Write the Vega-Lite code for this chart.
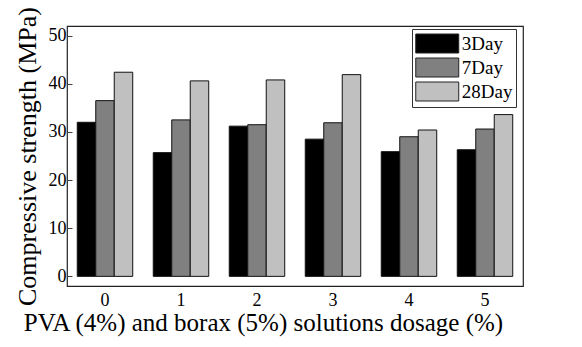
{
  "$schema": "https://vega.github.io/schema/vega-lite/v6.json",
  "width": 456,
  "height": 260,
  "autosize": {"type": "none"},
  "padding": {"left": 67, "top": 26, "right": 59, "bottom": 61},
  "background": "white",
  "config": {
    "font": "Liberation Serif, Times New Roman, DejaVu Serif, serif",
    "view": {"stroke": "#222", "strokeWidth": 1.2},
    "axis": {"labelFont": "Liberation Serif, Times New Roman, DejaVu Serif, serif", "titleFont": "Liberation Serif, Times New Roman, DejaVu Serif, serif"},
    "legend": {"labelFont": "Liberation Serif, Times New Roman, DejaVu Serif, serif"}
  },
  "data": {
    "values": [
      {"dosage": "0", "age": "3Day", "strength": 32.0},
      {"dosage": "0", "age": "7Day", "strength": 36.5},
      {"dosage": "0", "age": "28Day", "strength": 42.4},
      {"dosage": "1", "age": "3Day", "strength": 25.7},
      {"dosage": "1", "age": "7Day", "strength": 32.5},
      {"dosage": "1", "age": "28Day", "strength": 40.6},
      {"dosage": "2", "age": "3Day", "strength": 31.2},
      {"dosage": "2", "age": "7Day", "strength": 31.5},
      {"dosage": "2", "age": "28Day", "strength": 40.8},
      {"dosage": "3", "age": "3Day", "strength": 28.5},
      {"dosage": "3", "age": "7Day", "strength": 31.9},
      {"dosage": "3", "age": "28Day", "strength": 41.9},
      {"dosage": "4", "age": "3Day", "strength": 25.9},
      {"dosage": "4", "age": "7Day", "strength": 29.0},
      {"dosage": "4", "age": "28Day", "strength": 30.4},
      {"dosage": "5", "age": "3Day", "strength": 26.3},
      {"dosage": "5", "age": "7Day", "strength": 30.6},
      {"dosage": "5", "age": "28Day", "strength": 33.6}
    ]
  },
  "mark": {"type": "bar", "stroke": "#111", "strokeWidth": 1},
  "encoding": {
    "x": {
      "field": "dosage",
      "type": "nominal",
      "scale": {"paddingInner": 0.27, "paddingOuter": 0.135},
      "axis": {
        "title": "PVA (4%) and borax (5%) solutions dosage (%)",
        "titleFontSize": 25,
        "titleFontWeight": "normal",
        "titleColor": "black",
        "titleX": 196,
        "titleY": 44,
        "titleAlign": "center",
        "titleBaseline": "alphabetic",
        "labelAngle": 0,
        "labelFontSize": 18,
        "labelColor": "black",
        "labelPadding": 5,
        "ticks": false,
        "domain": false
      }
    },
    "xOffset": {"field": "age", "type": "nominal", "sort": ["3Day", "7Day", "28Day"], "scale": {"paddingInner": 0, "paddingOuter": 0}},
    "y": {
      "field": "strength",
      "type": "quantitative",
      "scale": {"domain": [-2, 52], "nice": false, "zero": false},
      "axis": {
        "title": "Compressive strength (MPa)",
        "titleFontSize": 26,
        "titleFontWeight": "normal",
        "titleColor": "black",
        "titleAngle": -90,
        "titleX": -32,
        "titleY": 130,
        "titleAlign": "center",
        "titleBaseline": "alphabetic",
        "values": [0, 10, 20, 30, 40, 50],
        "labelFontSize": 18,
        "labelColor": "black",
        "labelPadding": 6,
        "tickSize": -5,
        "tickColor": "#444",
        "grid": false,
        "domain": false
      }
    },
    "color": {
      "field": "age",
      "type": "nominal",
      "sort": ["3Day", "7Day", "28Day"],
      "scale": {"domain": ["3Day", "7Day", "28Day"], "range": ["#000000", "#808080", "#c0c0c0"]},
      "legend": {
        "title": null,
        "orient": "none",
        "legendX": 345,
        "legendY": 3,
        "direction": "vertical",
        "strokeColor": "#333",
        "fillColor": "white",
        "padding": 3,
        "rowPadding": -3.5,
        "symbolType": "M-2,-0.884H2V0.884H-2Z",
        "symbolSize": 462,
        "symbolOffset": 10.75,
        "symbolStrokeColor": "#222",
        "symbolStrokeWidth": 1,
        "symbolOpacity": 1,
        "labelFontSize": 19,
        "labelColor": "black",
        "labelOffset": 13
      }
    }
  }
}
